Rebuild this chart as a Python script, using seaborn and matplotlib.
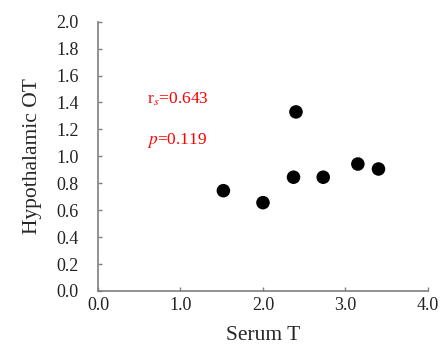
import matplotlib
matplotlib.use("Agg")
import matplotlib.pyplot as plt
import seaborn as sns
import pandas as pd

serum_t = [1.52, 2.00, 2.37, 2.40, 2.73, 3.15, 3.40]
hypo_ot = [0.745, 0.656, 0.845, 1.33, 0.845, 0.943, 0.906]
x_ticks = [0.0, 1.0, 2.0, 3.0, 4.0]
y_ticks = [0.0, 0.2, 0.4, 0.6, 0.8, 1.0, 1.2, 1.4, 1.6, 1.8, 2.0]

df = pd.DataFrame({"Serum T": serum_t, "Hypothalamic OT": hypo_ot})

sns.set_style("white")
plt.rcParams['font.family'] = ['Liberation Serif', 'DejaVu Serif']
plt.rcParams['mathtext.fontset'] = 'stix'

fig = plt.figure(figsize=(4.46, 3.5), dpi=100)
ax = fig.add_axes([0.2197, 0.1686, 0.7399, 0.7694])

sns.scatterplot(data=df, x="Serum T", y="Hypothalamic OT", ax=ax,
                color="black", s=95, edgecolor="none")

ax.set_xlim(0, 4.0)
ax.set_ylim(0, 2.0)
ax.set_xticks(x_ticks)
ax.set_yticks(y_ticks)
ax.set_xticklabels([f"{v:.1f}" for v in x_ticks])
ax.set_yticklabels([f"{v:.1f}" for v in y_ticks])

for side in ["top", "right"]:
    ax.spines[side].set_visible(False)
for side in ["left", "bottom"]:
    ax.spines[side].set_color("#7f7f7f")
    ax.spines[side].set_linewidth(1.2)

ax.tick_params(axis="both", direction="in", length=3, width=1, color="#7f7f7f",
               labelsize=13, labelcolor="#222222", left=True, bottom=True)
ax.tick_params(axis="x", pad=4)
ax.tick_params(axis="y", pad=14)

ax.set_xlabel("Serum T", fontsize=15.5, labelpad=9)
ax.set_ylabel("Hypothalamic OT", fontsize=15.5, labelpad=10)

ax.text(0.59, 1.42, r"r$_{\mathit{s}}$=0.643", color="red", fontsize=12.5, va="center")
ax.text(0.59, 1.12, r"$p$=0.119", color="red", fontsize=12.5, va="center")

fig.savefig("out.png", dpi=100)
